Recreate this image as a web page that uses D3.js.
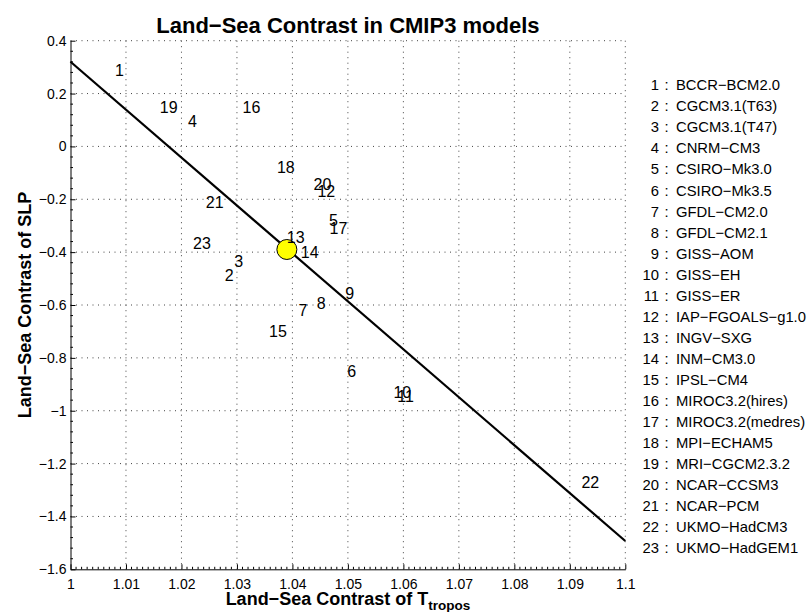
<!DOCTYPE html>
<html>
<head>
<meta charset="utf-8">
<script src="https://cdn.jsdelivr.net/npm/d3@7"></script>
<style>
  html, body { margin: 0; padding: 0; background: #fff; }
  svg { display: block; font-family: "Liberation Sans", Arial, Helvetica, sans-serif; }
</style>
</head>
<body>
<svg id="chart" width="808" height="612"></svg>
<script>
// CMIP3 models, numbered as in the key on the right
const models = [
  "BCCR−BCM2.0", "CGCM3.1(T63)", "CGCM3.1(T47)", "CNRM−CM3", "CSIRO−Mk3.0",
  "CSIRO−Mk3.5", "GFDL−CM2.0", "GFDL−CM2.1", "GISS−AOM", "GISS−EH",
  "GISS−ER", "IAP−FGOALS−g1.0", "INGV−SXG", "INM−CM3.0", "IPSL−CM4",
  "MIROC3.2(hires)", "MIROC3.2(medres)", "MPI−ECHAM5", "MRI−CGCM2.3.2", "NCAR−CCSM3",
  "NCAR−PCM", "UKMO−HadCM3", "UKMO−HadGEM1"
];

// Land-sea contrast of tropospheric temperature for each model
const contrastT = [
  1.0080, 1.0278, 1.0295, 1.0212, 1.0466,
  1.0499, 1.0411, 1.0444, 1.0495, 1.0582,
  1.0589, 1.0445, 1.0390, 1.0415, 1.0358,
  1.0310, 1.0467, 1.0372, 1.0161, 1.0438,
  1.0244, 1.0921, 1.0221
];

// Land-sea contrast of sea level pressure for each model
const contrastSLP = [
  0.287, -0.487, -0.436, 0.095, -0.278,
  -0.849, -0.619, -0.594, -0.556, -0.932,
  -0.947, -0.169, -0.344, -0.402, -0.701,
  0.148, -0.310, -0.079, 0.150, -0.142,
  -0.211, -1.269, -0.367
];

// Multi-model mean and the fitted line through the scatter
const meanPoint = { x: 1.039, y: -0.390 };
const fitX = [1.0, 1.1];
const fitY = [0.3205, -1.493];

const xTicks = [1, 1.01, 1.02, 1.03, 1.04, 1.05, 1.06, 1.07, 1.08, 1.09, 1.1];
const yTicks = [0.4, 0.2, 0, -0.2, -0.4, -0.6, -0.8, -1, -1.2, -1.4, -1.6];

const titleText = "Land−Sea Contrast in CMIP3 models";
const xLabelText = "Land−Sea Contrast of T";
const xLabelSub = "tropos";
const yLabelText = "Land−Sea Contrast of SLP";

// ---- layout ----
const svg = d3.select("#chart");
const plot = { left: 70.5, right: 625.3, top: 40.7, bottom: 569.3 };

const x = d3.scaleLinear().domain([1, 1.1]).range([plot.left, plot.right]);
const y = d3.scaleLinear().domain([-1.6, 0.4]).range([plot.bottom, plot.top]);

const fmt = d3.format("~g");

// dotted grid
const grid = svg.append("g").attr("class", "grid");
grid.selectAll("line.gx").data(xTicks.slice(1)).join("line")
  .attr("x1", d => x(d)).attr("x2", d => x(d))
  .attr("y1", plot.top).attr("y2", plot.bottom)
  .attr("stroke", "#444").attr("stroke-width", 1)
  .attr("stroke-dasharray", "1,4.5");
grid.selectAll("line.gy").data(yTicks.slice(0, -1)).join("line")
  .attr("x1", plot.left).attr("x2", plot.right)
  .attr("y1", d => y(d)).attr("y2", d => y(d))
  .attr("stroke", "#444").attr("stroke-width", 1)
  .attr("stroke-dasharray", "1,4.5");

// axes with inward ticks
const xAxis = d3.axisBottom(x).tickValues(xTicks).tickFormat(fmt)
  .tickSizeInner(-5).tickSizeOuter(0).tickPadding(10);
const yAxis = d3.axisLeft(y).tickValues(yTicks).tickFormat(fmt)
  .tickSizeInner(-5).tickSizeOuter(0).tickPadding(4);

const gx = svg.append("g").attr("transform", `translate(0,${plot.bottom})`).call(xAxis);
const gy = svg.append("g").attr("transform", `translate(${plot.left},0)`).call(yAxis);
[gx, gy].forEach(g => {
  g.select(".domain").attr("stroke", "#000").attr("stroke-width", 1);
  g.selectAll(".tick line").attr("stroke", "#000");
  g.selectAll(".tick text").attr("fill", "#000")
    .style("font-family", "Liberation Sans, Arial, sans-serif").style("font-size", "14px");
});

// minor ticks
const xMinor = d3.range(0, 101).map(i => 1 + i * 0.001).filter((d, i) => i % 10 !== 0);
const yMinor = d3.range(0, 51).map(i => -1.6 + i * 0.04).filter((d, i) => i % 5 !== 0);
svg.append("g").selectAll("line").data(xMinor).join("line")
  .attr("x1", d => x(d)).attr("x2", d => x(d))
  .attr("y1", plot.bottom).attr("y2", plot.bottom - 2.5)
  .attr("stroke", "#000").attr("stroke-width", 1);
svg.append("g").selectAll("line").data(yMinor).join("line")
  .attr("x1", plot.left).attr("x2", plot.left + 2.5)
  .attr("y1", d => y(d)).attr("y2", d => y(d))
  .attr("stroke", "#000").attr("stroke-width", 1);

// fitted line
svg.append("path")
  .datum(d3.zip(fitX, fitY))
  .attr("d", d3.line().x(d => x(d[0])).y(d => y(d[1])))
  .attr("fill", "none").attr("stroke", "#000").attr("stroke-width", 2.2);

// multi-model mean marker
svg.append("circle")
  .attr("cx", x(meanPoint.x)).attr("cy", y(meanPoint.y)).attr("r", 10)
  .attr("fill", "#ffff00").attr("stroke", "#000").attr("stroke-width", 1);

// model numbers at their positions
const labelSize = 16;
svg.append("g").selectAll("text").data(models).join("text")
  .attr("x", (d, i) => x(contrastT[i]))
  .attr("y", (d, i) => y(contrastSLP[i]) + 0.358 * labelSize)
  .attr("font-size", labelSize)
  .attr("fill", "#000")
  .text((d, i) => i + 1);

// key of model names
const keyTop = 85, keyStep = 21.05, keySize = 14.8;
const key = svg.append("g").attr("font-size", keySize).attr("fill", "#000");
const rows = key.selectAll("g").data(models).join("g")
  .attr("transform", (d, i) => `translate(0,${keyTop + i * keyStep + 0.358 * keySize})`);
rows.append("text").attr("x", 659).attr("text-anchor", "end").text((d, i) => i + 1);
rows.append("text").attr("x", 666.5).attr("text-anchor", "middle").text(":");
rows.append("text").attr("x", 676).text(d => d);

// title
svg.append("text")
  .attr("x", (plot.left + plot.right) / 2).attr("y", 33)
  .attr("text-anchor", "middle").attr("font-weight", "bold").attr("font-size", 22)
  .text(titleText);

// x axis label with subscript
const xl = svg.append("text")
  .attr("x", (plot.left + plot.right) / 2).attr("y", 605)
  .attr("text-anchor", "middle").attr("font-weight", "bold").attr("font-size", 18);
xl.append("tspan").text(xLabelText);
xl.append("tspan").attr("font-size", 13.5).attr("dy", 5).text(xLabelSub);

// y axis label
svg.append("text")
  .attr("transform", `translate(31,${(plot.top + plot.bottom) / 2}) rotate(-90)`)
  .attr("text-anchor", "middle").attr("font-weight", "bold").attr("font-size", 18)
  .text(yLabelText);
</script>
</body>
</html>
